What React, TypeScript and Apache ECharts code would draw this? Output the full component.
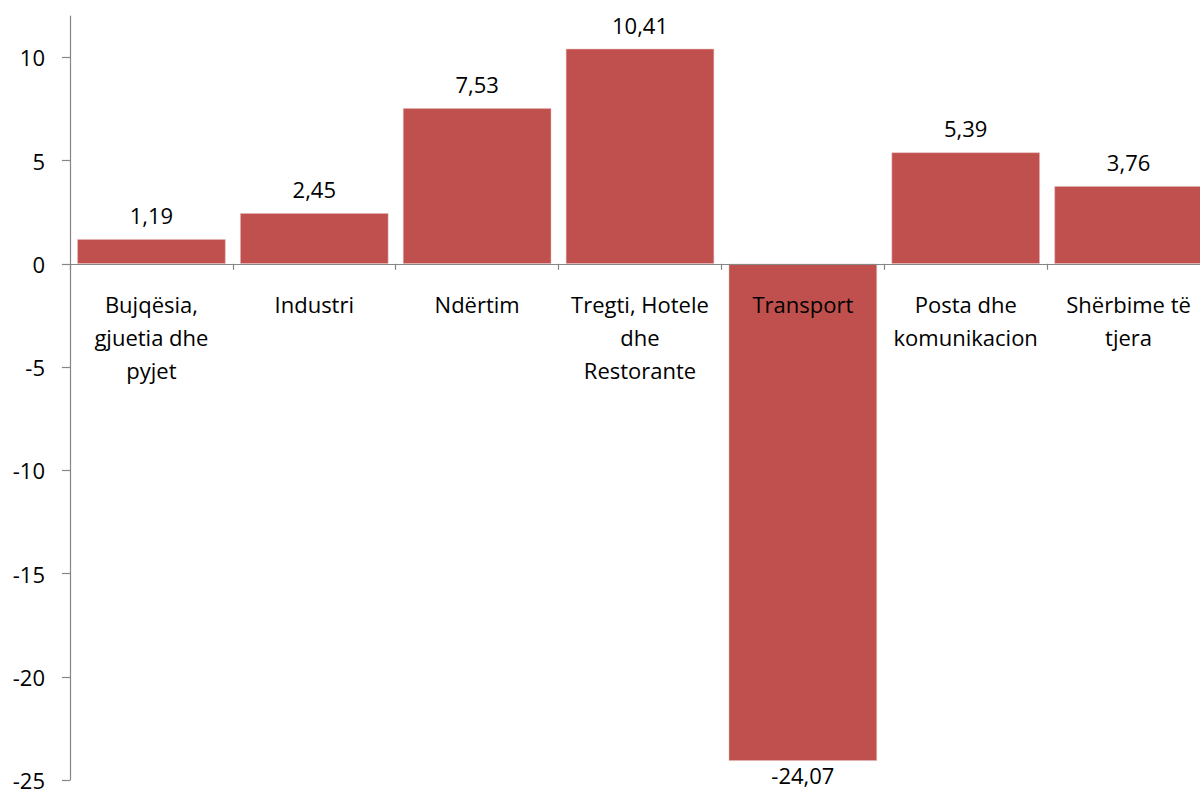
import React, { useEffect, useRef } from "react";
import * as echarts from "echarts";

const categories = [
  "Bujqësia,\ngjuetia dhe\npyjet",
  "Industri",
  "Ndërtim",
  "Tregti, Hotele\ndhe\nRestorante",
  "Transport",
  "Posta dhe\nkomunikacion",
  "Shërbime të\ntjera",
];
const values = [1.19, 2.45, 7.53, 10.41, -24.07, 5.39, 3.76];
const yTicks = [-25, -20, -15, -10, -5, 0, 5, 10];

const FONT = "Open Sans";
const FS = 22;

export default function App() {
  const ref = useRef<HTMLDivElement>(null);
  useEffect(() => {
    if (!ref.current) return;
    const chart = echarts.init(ref.current, null, { renderer: "svg" });
    chart.setOption({
      animation: false,
      grid: { left: 70, right: -10, top: 16, bottom: 11, containLabel: false, outerBoundsMode: "none" },
      xAxis: {
        type: "category",
        data: categories,
        z: 5,
        axisLine: { onZero: true, lineStyle: { color: "#868686", width: 1.2 } },
        axisTick: { show: true, length: 6, lineStyle: { color: "#868686", width: 1.2 } },
        axisLabel: { show: false },
      },
      yAxis: {
        type: "value",
        min: -25,
        max: 12,
        splitLine: { show: false },
        axisLine: { show: true, lineStyle: { color: "#868686", width: 1.2 } },
        axisTick: { show: true, length: 8, customValues: yTicks, lineStyle: { color: "#868686", width: 1.2 } },
        axisLabel: {
          color: "#000",
          fontFamily: FONT,
          fontSize: FS,
          margin: 25,
          customValues: yTicks,
          formatter: (v: number) => String(v),
        },
      },
      series: [
        {
          type: "bar",
          data: values.map((v) => ({
            value: v,
            label: { position: v >= 0 ? "top" : "bottom", distance: v >= 0 ? 13 : 3 },
          })),
          barCategoryGap: "9%",
          itemStyle: { color: "#C0504D", borderColor: "#E6B9B8", borderWidth: 0.5 },
          label: {
            show: true,
            color: "#000",
            fontFamily: FONT,
            fontSize: FS,
            formatter: (p: any) => p.value.toFixed(2).replace(".", ","),
          },
        },
        {
          type: "scatter",
          data: categories.map(() => 0),
          symbolSize: 0,
          silent: true,
          z: 10,
          itemStyle: { opacity: 1 },
          label: {
            show: true,
            position: "bottom",
            distance: 24,
            color: "#000",
            opacity: 1,
            fontFamily: FONT,
            fontSize: FS,
            lineHeight: 33,
            align: "center",
            verticalAlign: "top",
            formatter: (p: any) => categories[p.dataIndex],
          },
        },
      ],
    });
    return () => chart.dispose();
  }, []);
  return <div ref={ref} style={{ width: 1200, height: 791, position: "absolute", left: 0, top: 0 }} />;
}
